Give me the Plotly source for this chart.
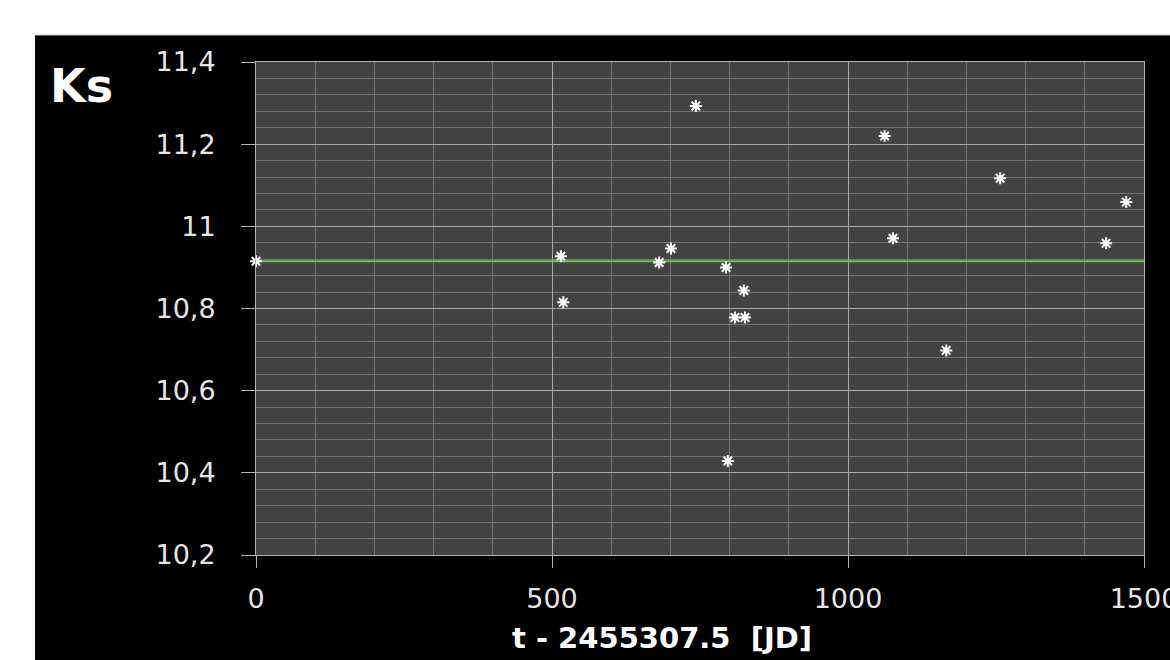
import plotly.graph_objects as go

# Ks photometry: days since JD 2455307.5 and measured magnitude
t_days = [0, 515, 519, 681, 701, 743, 794, 809, 826, 824, 797,
          1062, 1076, 1166, 1257, 1436, 1470]
ks_mag = [10.915, 10.927, 10.815, 10.912, 10.946, 11.293, 10.900, 10.778,
          10.778, 10.844, 10.429, 11.220, 10.971, 10.698, 11.117, 10.959, 11.059]
ks_mean = 10.915
x_ticks = [0, 500, 1000, 1500]
y_ticks = [10.2, 10.4, 10.6, 10.8, 11.0, 11.2, 11.4]

W, H = 1170, 660
L, R, T, B = 256, 26, 62, 105
pw, ph = W - L - R, H - T - B


def px_x(p):
    return (p - L) / pw


def px_y(p):
    return (H - B - p) / ph


fig = go.Figure()

# mean level
fig.add_trace(go.Scatter(
    x=[x_ticks[0], x_ticks[-1]], y=[ks_mean, ks_mean], mode="lines",
    line=dict(color="#62c848", width=2), hoverinfo="skip", showlegend=False,
))

# individual measurements
fig.add_trace(go.Scatter(
    x=t_days, y=ks_mag, mode="markers",
    marker=dict(symbol="asterisk-open", size=10, color="#ffffff",
                line=dict(color="#ffffff", width=2)),
    cliponaxis=False, showlegend=False,
))

tick_font = dict(family="DejaVu Sans", size=27, color="#e6e6e6")

fig.update_layout(
    width=W, height=H, autosize=False,
    margin=dict(l=L, r=R, t=T, b=B, autoexpand=False),
    paper_bgcolor="#000000",
    plot_bgcolor="#434343",
    separators=",.",
    xaxis=dict(
        range=[x_ticks[0], x_ticks[-1]], tickvals=x_ticks, automargin=False,
        showgrid=True, gridcolor="#a8a8a8", gridwidth=1,
        minor=dict(dtick=100, showgrid=True, gridcolor="#727272", gridwidth=1),
        showline=True, linecolor="#b4b4b4", linewidth=1, mirror=True,
        ticks="outside", ticklen=12, tickcolor="#b4b4b4",
        ticklabelstandoff=8, ticklabeloverflow="allow",
        tickfont=tick_font, zeroline=False,
    ),
    yaxis=dict(
        range=[y_ticks[0], y_ticks[-1]], tickvals=y_ticks, automargin=False,
        showgrid=True, gridcolor="#a8a8a8", gridwidth=1,
        minor=dict(dtick=0.04, tick0=10.2, showgrid=True,
                   gridcolor="#727272", gridwidth=1),
        showline=True, linecolor="#b4b4b4", linewidth=1, mirror=True,
        ticks="outside", ticklen=14, tickcolor="#b4b4b4",
        ticklabelstandoff=20, ticklabeloverflow="allow",
        tickfont=tick_font, zeroline=False,
    ),
    shapes=[
        # white page margin above and left of the dark panel
        dict(type="rect", xref="paper", yref="paper", layer="below",
             x0=px_x(-5), x1=px_x(W + 5), y0=px_y(35), y1=px_y(-5),
             fillcolor="#ffffff", line=dict(width=0)),
        dict(type="rect", xref="paper", yref="paper", layer="below",
             x0=px_x(-5), x1=px_x(35), y0=px_y(H + 5), y1=px_y(-5),
             fillcolor="#ffffff", line=dict(width=0)),
        dict(type="line", xref="paper", yref="paper",
             x0=px_x(35), x1=px_x(W + 5), y0=px_y(35), y1=px_y(35),
             line=dict(color="#c8c8c8", width=1)),
    ],
    annotations=[
        dict(text="<b>Ks</b>", xref="paper", yref="paper",
             x=px_x(81), y=px_y(86), xanchor="center", yanchor="middle",
             showarrow=False,
             font=dict(family="DejaVu Sans", size=46, color="#ffffff")),
        dict(text="<b>t - 2455307.5  [JD]</b>", xref="paper", yref="paper",
             x=px_x(662), y=px_y(638), xanchor="center", yanchor="middle",
             showarrow=False,
             font=dict(family="DejaVu Sans", size=29, color="#ffffff")),
    ],
)

fig.write_html("out.html")
